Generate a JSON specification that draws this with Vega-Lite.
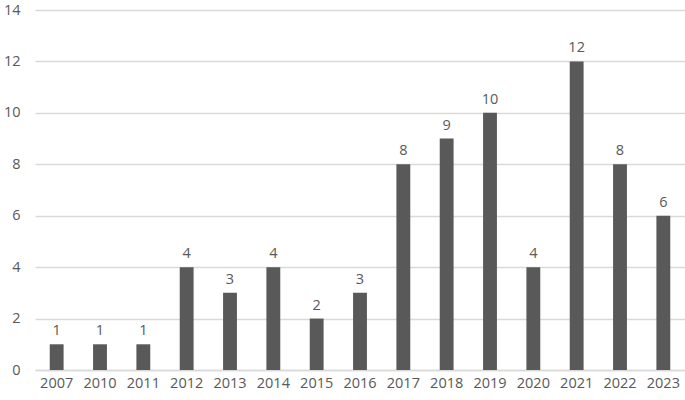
{
  "$schema": "https://vega.github.io/schema/vega-lite/v6.json",
  "autosize": "none",
  "width": 650,
  "height": 360,
  "padding": {"left": 35, "top": 10, "right": 0, "bottom": 30},
  "background": "white",
  "config": {"view": {"stroke": null}, "font": "Open Sans"},
  "data": {"values": [
    {"year": "2007", "count": 1},
    {"year": "2010", "count": 1},
    {"year": "2011", "count": 1},
    {"year": "2012", "count": 4},
    {"year": "2013", "count": 3},
    {"year": "2014", "count": 4},
    {"year": "2015", "count": 2},
    {"year": "2016", "count": 3},
    {"year": "2017", "count": 8},
    {"year": "2018", "count": 9},
    {"year": "2019", "count": 10},
    {"year": "2020", "count": 4},
    {"year": "2021", "count": 12},
    {"year": "2022", "count": 8},
    {"year": "2023", "count": 6}
  ]},
  "encoding": {
    "x": {"field": "year", "type": "nominal", "sort": null,
      "scale": {"paddingInner": 0.68, "paddingOuter": 0.34},
      "axis": {"title": null, "labelAngle": 0, "ticks": false, "domainColor": "#d9d9d9", "domainWidth": 1.5,
        "labelFont": "Open Sans", "labelFontSize": 14.5, "labelColor": "#595959", "labelPadding": 6}},
    "y": {"field": "count", "type": "quantitative",
      "scale": {"domain": [0, 14], "nice": false},
      "axis": {"title": null, "values": [0,2,4,6,8,10,12,14], "domain": false, "ticks": false,
        "gridColor": "#d9d9d9", "gridWidth": 1.5, "labelFont": "Open Sans", "labelFontSize": 14.5,
        "labelColor": "#595959", "labelPadding": 15}}
  },
  "layer": [
    {"mark": {"type": "bar", "color": "#595959"}},
    {"mark": {"type": "text", "baseline": "bottom", "dy": -6, "fontSize": 14.5, "color": "#595959", "font": "Open Sans"},
      "encoding": {"text": {"field": "count", "type": "quantitative"}}}
  ]
}
